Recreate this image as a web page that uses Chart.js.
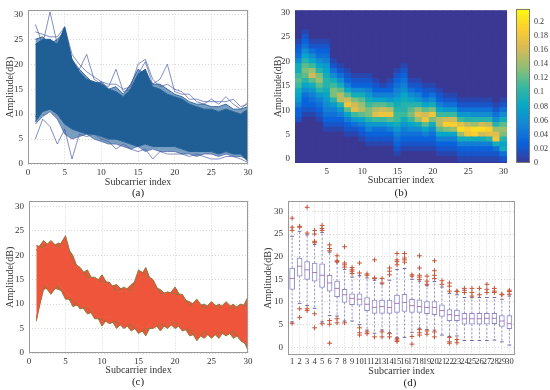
<!DOCTYPE html>
<html><head><meta charset="utf-8">
<script src="https://cdn.jsdelivr.net/npm/chart.js"></script>
<style>
html,body{margin:0;padding:0;background:#fff;width:550px;height:390px;overflow:hidden;position:relative}
canvas{position:absolute;display:block}
.cap{position:absolute;font-family:'Liberation Serif','Times New Roman',serif;font-size:11px;line-height:12px;color:#222;transform:translateX(-50%);white-space:nowrap}
</style></head><body>
<canvas id="ca" width="256" height="190" style="left:0;top:0"></canvas>
<canvas id="cb" width="243" height="190" style="left:268px;top:0"></canvas>
<canvas id="cbar" width="40" height="190" style="left:516px;top:0"></canvas>
<canvas id="cc" width="256" height="188" style="left:0;top:191px"></canvas>
<canvas id="cd" width="262" height="188" style="left:258px;top:191px"></canvas>
<div class="cap" style="left:138px;top:186px">(a)</div>
<div class="cap" style="left:401px;top:186px">(b)</div>
<div class="cap" style="left:138px;top:375px">(c)</div>
<div class="cap" style="left:410px;top:376px">(d)</div>
<script>
// ---------------- data ----------------
const subcarriers = [1,2,3,4,5,6,7,8,9,10,11,12,13,14,15,16,17,18,19,20,21,22,23,24,25,26,27,28,29,30];
const ticks0to30 = [0,5,10,15,20,25,30];
const ticks5to30 = [5,10,15,20,25,30];
const cbTicks = [0,0.02,0.04,0.06,0.08,0.1,0.12,0.14,0.16,0.18,0.2];

// (a) raw amplitudes: dense band envelope + outlying traces
const aUpper = [24,25,25,24,27.5,21,18.5,17,16.5,16,15,14.5,13.5,15,18,19,15.5,15,14,13.5,13,12,11.5,11,11,10.5,11,10.5,10,11];
const aLower = [8.5,10.5,11,10,8,7,6.5,6,6,5.5,5,5,4.5,4,3.5,4,3.5,3.5,3.5,3.5,3,2.5,2.5,2.5,2.5,2,2.5,2,2,0.5];
const aHigh1 = [28,24,30.5,24,26,21,19,22,17,16,15.5,19,14.5,15,18,20.5,16,17,20,14.5,14,14,12.5,12,13,12,13.5,12,11,12.5];
const aHigh2 = [26.5,26,25.5,25.5,27.5,22,20,18.5,17.5,16.5,16,16,15,15.5,20,21,17,15.5,16,15,14.5,13,13,12.5,12.5,12.5,12.5,13,11.5,12];
const aHigh3 = [25,25.5,24,25,26.5,20,19,17.5,16,16.5,15,15.5,14,16,19,18,16,16,15,14,13.5,12.5,12,12,11.5,11.5,12,11,11,11.5];
const aLow1  = [5,9,7.5,4,7,1,6,5.5,6,5,4.5,3,4,3,2.5,3,1,2.5,2,2,2,1.5,2,1.5,1,1,1.5,1.5,1,0.3];
const aLow2  = [8,9.5,10.5,9,6,5,5.5,6,5,4.5,4,4,3.5,3,3.5,2.5,3,2.5,2.5,2.5,2,2,1.5,2,2,1.5,2,1.5,1.5,1];
const aLow3  = [9.5,11,12,10,9,7.5,6.5,6.5,6,6,5.5,5,5,4.5,4,4.5,4,4,3.5,4,3.5,3,3,3,3,2.5,3,2.5,2.5,1.5];

// (c) processed amplitudes: peaks and the dense core of the band
const cPeakHi = [22,23,23,22.5,24,20,17.5,17,15.5,16,14.5,14,13.5,14,17,17.5,15,13,12.5,13.5,12,10.5,11,10,10.5,10,10.5,10,10,11.5];
const cCoreHi = [21,21.5,21.5,21.5,22,18.5,16,15.5,14,14.5,13.5,12.5,12.5,12.5,15,16,13.5,12,11.5,12,11,9.5,9.5,9,9,9,9,9,8.5,9.5];
const cCoreLo = [7,14,13.5,14,12.5,11,10,9.5,8.5,7,7.5,6.5,6.5,6,5.5,5,6.5,6,6.5,6.5,6,5,4,4.5,4.5,4.5,5,4.5,4,1.5];
const cPeakLo = [6.5,13,12,13,11,9.5,9,8,7,5.5,6,5,5,4.5,4,3.5,5,4.5,5,5,4.5,3.5,2.5,3,3,3,3.5,3,2.5,0.5];

// (b) probability heat map: per subcarrier, values from row heatBase upward
const heatBase = [8,9,9,8,6,6,6,5,5,4,3,3,3,3,1,2,2,2,2,2,1,1,1,0,0,0,0,0,0,0];
const heatCols = [
 [.02,.03,.03,.05,.07,.08,.09,.11,.12,.11,.09,.09,.06,.04,.03,.02,.01],
 [.01,.02,.03,.03,.04,.06,.08,.10,.12,.13,.12,.10,.08,.06,.04,.03,.02,.01],
 [.01,.02,.03,.04,.05,.07,.09,.12,.16,.14,.11,.08,.06,.04,.02,.01],
 [.01,.02,.03,.04,.05,.07,.10,.12,.14,.13,.10,.08,.06,.04,.03,.02,.01],
 [.01,.02,.03,.04,.05,.06,.07,.08,.09,.10,.10,.09,.08,.07,.05,.04,.03,.02,.01],
 [.01,.02,.03,.04,.05,.07,.10,.13,.13,.11,.09,.06,.04,.02,.01],
 [.01,.02,.03,.05,.07,.10,.15,.15,.12,.09,.06,.04,.02,.01],
 [.01,.02,.03,.05,.08,.12,.18,.16,.12,.08,.05,.03,.02,.01],
 [.01,.02,.04,.07,.11,.17,.16,.13,.09,.06,.03,.02,.01],
 [.01,.02,.03,.05,.08,.12,.15,.14,.12,.09,.06,.03,.02,.01],
 [.01,.02,.03,.05,.07,.10,.13,.13,.11,.09,.07,.05,.03,.02,.01],
 [.01,.02,.03,.04,.07,.11,.17,.15,.12,.08,.05,.03,.02,.01],
 [.01,.02,.03,.04,.07,.11,.18,.16,.12,.08,.05,.03,.01],
 [.01,.02,.03,.05,.08,.12,.18,.15,.11,.07,.05,.03,.02,.01],
 [.01,.02,.03,.04,.05,.07,.09,.11,.11,.10,.09,.08,.06,.05,.04,.03,.02,.01],
 [.01,.02,.03,.04,.05,.07,.09,.11,.10,.10,.09,.08,.06,.05,.04,.03,.02,.01],
 [.01,.02,.03,.04,.06,.08,.11,.13,.12,.10,.08,.06,.04,.02,.01],
 [.01,.02,.03,.04,.06,.09,.14,.17,.14,.10,.07,.05,.03,.02,.01],
 [.01,.02,.03,.05,.08,.12,.18,.16,.12,.08,.05,.03,.02,.01],
 [.01,.02,.03,.04,.06,.09,.13,.18,.13,.09,.06,.04,.02,.01],
 [.01,.02,.03,.05,.08,.12,.15,.15,.11,.08,.05,.03,.02,.01],
 [.01,.02,.03,.05,.08,.13,.19,.16,.11,.07,.04,.02,.01],
 [.01,.02,.03,.05,.08,.14,.19,.16,.11,.07,.04,.02,.01],
 [.01,.02,.03,.05,.09,.14,.20,.17,.11,.07,.04,.02,.01],
 [.01,.02,.03,.05,.09,.18,.19,.15,.10,.07,.04,.02,.01],
 [.01,.02,.03,.05,.09,.19,.20,.14,.10,.06,.04,.02,.01],
 [.01,.02,.03,.05,.09,.16,.20,.16,.10,.06,.04,.02,.01],
 [.01,.02,.03,.05,.10,.17,.19,.15,.10,.06,.04,.02,.01],
 [.01,.02,.04,.09,.18,.17,.14,.10,.06,.04,.02,.01],
 [.02,.04,.09,.08,.10,.13,.14,.12,.09,.06,.04,.02,.01]
];
const heatRows = [0,1,2,3,4,5,6,7,8,9,10,11,12,13,14,15,16,17,18,19,20,21,22,23,24,25,26,27,28,29,30];
const cbMax = 0.218;

// (d) box plot statistics
const boxQ1  = [12.8,15.7,15.0,14.6,13.2,12.4,11.2,9.9,9.4,9.3,8.1,7.5,7.5,7.5,7.7,7.9,7.7,7.7,7.4,7.2,6.8,5.9,5.9,5.1,5.1,5.1,5.1,5.2,4.6,4.1];
const boxMed = [15.2,17.9,17.1,16.5,15.9,14.2,13.0,11.6,10.8,10.6,9.5,8.8,9.0,8.8,9.7,9.9,9.2,9.0,8.8,8.8,8.1,7.2,7.0,6.3,6.3,6.3,6.4,6.4,5.8,5.2];
const boxQ3  = [17.5,19.7,18.9,18.6,18.4,15.9,14.6,12.8,11.8,11.8,11.0,10.4,10.4,10.4,11.5,11.7,10.6,10.5,10.1,10.1,9.4,8.3,8.2,7.5,7.5,7.5,7.5,7.5,7.0,7.0];
const boxWLo = [5.6,9.7,9.2,8.6,5.6,7.0,6.9,5.8,5.8,5.0,3.8,3.1,3.8,3.2,2.2,2.2,3.3,4.2,3.9,3.8,2.7,2.4,2.5,1.5,1.5,1.5,1.5,1.6,1.2,0.5];
const boxWHi = [24.5,25.6,24.8,22.7,25.3,21.0,18.8,17.2,15.5,15.8,15.3,14.8,14.0,14.8,17.2,17.4,15.0,14.6,13.6,14.5,13.3,11.9,11.6,11.0,11.0,11.0,11.0,11.0,10.6,11.3];
const boxOut = [
 [25.8,26.5,28.5,5.3],[26.5,26.7,8.5,6.6],[25.2,30.9,8.5,8.1],[23.1,23.4,25,25.8,7.4,4.3],[25.8,26.2,26.9,5.2],
 [21.3,21.8,22.6,5.9,5.1,0.9],[18.9,19.1,20.2,6.3,5.4],[17.7,18.2,18.6,22.2,5.4],[16.3,16.8,17.1,17.6],[16.4,18.6,4.3,3.2,2.7],
 [15.9,16.2,3.4,3.0],[15.2,15.3,19.3,2.3],[14.2,15.2,3.4,2.3],[16,16.8,17.5,3.0,2.3],[18.2,18.9,19.3,20.7,1.9,1.6,1.3],
 [18.8,19.3,19.7,20.7],[15.7,16,2.4,0.7],[15,15.5,15.9,17.5,20.2,3.9,3.2,2.7],[13.9,14.6,15.7,3.6,2.9],[15.2,15.9,16.9,19.1,3.4,2.3],
 [13.9,14.7],[12.4,13.5,14.2,2.2,1.2,0.9],[12.3,12.4,1.7,1.0],[12.1,12.6,13],[11.3,12.1,13],
 [11.6,13],[12.1,12.8,13.9],[12.1,12.4,13],[11.6,11.7],[11.7,12.3,12.6]
];

// ---------------- helpers / styles ----------------
const F = "'Liberation Serif','Times New Roman',serif";
Chart.defaults.font.family = F;
Chart.defaults.color = '#333';
const BLUE = '#205e96', RED = '#ee553b', OLIVE = '#8e7a3e', LAV = '#8e88c8', OUT = '#c4553a';
const PAR = ['#3b3893','#0a5fdc','#1485d4','#06a7c6','#38b99e','#92bf73','#d9ba56','#fcce2e','#f9fb0e'];
function hex(h){return [1,3,5].map(i=>parseInt(h.substr(i,2),16));}
function parula(t){
  t=Math.max(0,Math.min(1,t)); const n=PAR.length-1;
  const i=Math.min(n-1,Math.floor(t*n)); const f=t*n-i;
  const a=hex(PAR[i]), b=hex(PAR[i+1]);
  return 'rgb('+a.map((v,k)=>Math.round(v+(b[k]-v)*f)).join(',')+')';
}
const pts = arr => subcarriers.map((x,i)=>({x, y:arr[i]}));
// a single trace that follows the peak values at odd or even subcarriers and the core elsewhere
const teeth = (peak,core,odd) => subcarriers.map((x,i)=>({x, y:((x%2===1)===odd)?peak[i]:core[i]}));
const fixTicks = vals => s => { s.ticks = vals.map(v=>({value:v})); };
const frame = color => ({id:'frame', afterDraw(c){const a=c.chartArea,x=c.ctx;x.save();x.strokeStyle=color;x.lineWidth=1;x.strokeRect(Math.round(a.left)+0.5,Math.round(a.top)+0.5,Math.round(a.right-a.left)-1,Math.round(a.bottom-a.top)-1);x.restore();}});
const bgFill = color => ({id:'bgfill', beforeDatasetsDraw(c){const a=c.chartArea,x=c.ctx;x.save();x.fillStyle=color;x.fillRect(a.left,a.top,a.right-a.left,a.bottom-a.top);x.restore();}});
const tickFont = {family:F,size:9};
const titleFont = {family:F,size:10};
function yAxis(min,max,ticks,width,grid){
  return {type:'linear',min,max,afterBuildTicks:fixTicks(ticks),afterFit:s=>{s.width=width;},
    grid:{display:grid,color:'#d6d6d6',drawTicks:false},border:{display:false,dash:[1,2]},
    ticks:{font:tickFont,color:'#333',padding:5},
    title:{display:true,text:'Amplitude(dB)',font:titleFont,color:'#333',padding:{top:4,bottom:0}}};
}
function xAxis(min,max,ticks,height,grid,pb){
  return {type:'linear',min,max,afterBuildTicks:fixTicks(ticks),afterFit:s=>{s.height=height;},
    grid:{display:grid,color:'#d6d6d6',drawTicks:false,offset:false},border:{display:false,dash:[1,2]},offset:false,
    ticks:{font:tickFont,color:'#333',padding:3,maxRotation:0,autoSkip:false},
    title:{display:true,text:'Subcarrier index',font:titleFont,color:'#333',padding:{top:0,bottom:pb}}};
}
const base = {responsive:false,animation:false,events:[],plugins:{legend:{display:false},tooltip:{enabled:false}}};

// ---------------- (a) ----------------
const line = (data,color,w,extra) => Object.assign({data,borderColor:color,borderWidth:w,pointRadius:0,fill:false,tension:0},extra||{});
const FR = 'rgba(70,90,165,0.85)';
const SPARSE = 'rgba(32,94,150,0.6)';
const NONE = 'rgba(0,0,0,0)';
new Chart(document.getElementById('ca'),{
  type:'line',
  data:{datasets:[
    line(pts(aLower),BLUE,1),
    line(pts(aUpper),BLUE,1,{fill:'-1',backgroundColor:BLUE}),
    line(pts(aHigh1),FR,0.8),
    line(pts(aHigh2),FR,0.8),
    line(pts(aHigh3),BLUE,0.9,{fill:{target:1,above:SPARSE,below:NONE}}),
    line(pts(aLow1),FR,0.8),
    line(pts(aLow2),FR,0.8,{fill:{target:0,above:NONE,below:SPARSE}}),
    line(pts(aLow3),BLUE,0.9)
  ]},
  options:Object.assign({},base,{layout:{padding:{top:10,right:8,left:0,bottom:0}},
    scales:{x:xAxis(0,30,ticks0to30,26,true,2),y:yAxis(0,30.8,ticks0to30,28,true)}}),
  plugins:[frame('#9a9a9a')]
});

// ---------------- (b) heat map ----------------
const cellVal = (ci,r) => { const k=r-heatBase[ci]; const col=heatCols[ci]; return (k>=0&&k<col.length)?col[k]:0; };
new Chart(document.getElementById('cb'),{
  type:'bar',
  data:{datasets:heatRows.map(r=>({
    data:subcarriers.map(c=>({x:c,y:[r-0.5,r+0.5]})),
    backgroundColor:subcarriers.map((c,i)=>parula(cellVal(i,r)/cbMax)),
    borderWidth:0,grouped:false,barPercentage:1,categoryPercentage:1,inflateAmount:0.5
  }))},
  options:Object.assign({},base,{layout:{padding:{top:8,right:0,left:0,bottom:0}},
    scales:{x:xAxis(0.5,30.5,ticks5to30,27,false,4),y:yAxis(-0.8,30.4,ticks0to30,27,false)}}),
  plugins:[bgFill(parula(0))]
});

// colour bar
const cbN = 64;
const cbSteps = Array.from({length:cbN},(_,k)=>(k+0.5)*cbMax/cbN);
new Chart(document.getElementById('cbar'),{
  type:'bar',
  data:{datasets:[{data:cbSteps.map(v=>({x:1,y:v})),backgroundColor:cbSteps.map(v=>parula(v/cbMax)),
    borderWidth:0,barPercentage:1,categoryPercentage:1,inflateAmount:0.5}]},
  options:Object.assign({},base,{indexAxis:'y',layout:{padding:{top:8,bottom:27,left:0,right:0}},
    scales:{x:{type:'linear',min:0,max:1,display:false},
      y:{type:'linear',position:'right',min:0,max:cbMax,offset:false,afterBuildTicks:fixTicks(cbTicks),afterFit:s=>{s.width=26;},
        grid:{display:false,drawTicks:false},border:{display:false},
        ticks:{font:{family:F,size:8},color:'#333',padding:4,callback:v=>String(Number(v.toFixed(2)))}}}}),
  plugins:[frame('#7a7a7a')]
});

// ---------------- (c) ----------------
new Chart(document.getElementById('cc'),{
  type:'line',
  data:{datasets:[
    line(pts(cCoreLo),RED,1),
    line(pts(cCoreHi),RED,1,{fill:'-1',backgroundColor:RED}),
    line(teeth(cPeakHi,cCoreHi,true),OLIVE,1,{fill:{target:1,above:RED,below:NONE}}),
    line(teeth(cPeakHi,cCoreHi,false),OLIVE,1,{fill:{target:1,above:RED,below:NONE}}),
    line(teeth(cPeakLo,cCoreLo,true),OLIVE,1,{fill:{target:0,above:NONE,below:RED}}),
    line(teeth(cPeakLo,cCoreLo,false),OLIVE,1,{fill:{target:0,above:NONE,below:RED}})
  ]},
  options:Object.assign({},base,{layout:{padding:{top:10,right:8,left:0,bottom:0}},
    scales:{x:xAxis(0,30,ticks0to30,26,true,3),y:yAxis(0,31,ticks0to30,29,true)}}),
  plugins:[frame('#9a9a9a')]
});

// ---------------- (d) box plot ----------------
const whiskerPts = [];
subcarriers.forEach((x,i)=>{
  whiskerPts.push({x,y:boxQ3[i]},{x,y:boxWHi[i]},{x,y:null},{x,y:boxQ1[i]},{x,y:boxWLo[i]},{x,y:null});
});
const capPts = [];
subcarriers.forEach((x,i)=>{capPts.push({x,y:boxWHi[i]},{x,y:boxWLo[i]});});
const outPts = [];
subcarriers.forEach((x,i)=>{boxOut[i].forEach(v=>outPts.push({x,y:v}));});
new Chart(document.getElementById('cd'),{
  type:'bar',
  data:{datasets:[
    {type:'scatter',data:outPts,pointStyle:'cross',pointRadius:2.4,borderColor:OUT,borderWidth:1,order:1},
    {type:'scatter',data:subcarriers.map((x,i)=>({x,y:boxMed[i]})),pointStyle:'line',pointRadius:2.5,borderColor:'#a87bb8',borderWidth:1,order:2},
    {type:'scatter',data:capPts,pointStyle:'line',pointRadius:1.8,borderColor:'#6a64a8',borderWidth:1,order:3},
    {type:'bar',data:subcarriers.map((x,i)=>({x,y:[boxQ1[i],boxQ3[i]]})),backgroundColor:'#ffffff',borderColor:LAV,borderWidth:1,borderSkipped:false,barThickness:5,order:4},
    {type:'line',data:whiskerPts,borderColor:'#7f78bc',borderWidth:0.8,borderDash:[2,2],pointRadius:0,spanGaps:false,fill:false,order:5}
  ]},
  options:Object.assign({},base,{layout:{padding:{top:8,right:0,left:0,bottom:0}},
    scales:{x:Object.assign(xAxis(0.45,30.75,subcarriers,24,true,2),{ticks:{font:{family:F,size:8.5},color:'#333',padding:2,maxRotation:0,autoSkip:false}}),
            y:yAxis(-1.7,32.2,ticks0to30,30,true)}}),
  plugins:[frame('#9a9a9a')]
});
</script>
</body></html>
